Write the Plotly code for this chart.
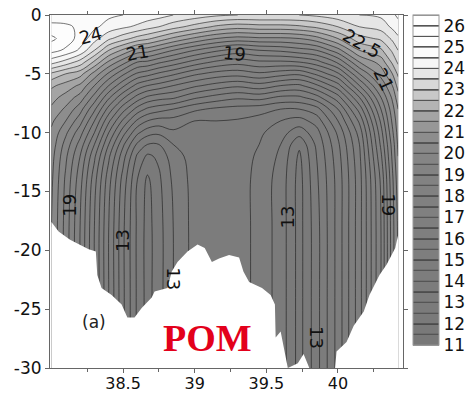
import plotly.graph_objects as go

# ---------------- data ----------------
lon = [38.0, 38.1, 38.2, 38.3, 38.4, 38.5, 38.6, 38.67, 38.75, 38.85, 39.0,
       39.15, 39.3, 39.45, 39.6, 39.73, 39.85, 40.0, 40.15, 40.3, 40.38, 40.42]
depth = [0, -1, -2, -3, -4, -5, -6, -7, -8, -9, -10, -11, -12, -14, -18, -24, -30]

# temperature profiles (one per longitude, values at the depths above)
profiles = [
    [24.6, 25.2, 25.6, 25.2, 24.2, 22.9, 22.1, 21.7, 21.4, 21.1, 20.9, 20.8, 20.7, 20.6, 20.5, 20.5, 20.5],
    [24.7, 25.1, 25.3, 24.9, 23.8, 22.5, 21.8, 21.3, 20.9, 20.5, 20.1, 19.8, 19.6, 19.4, 19.3, 19.3, 19.3],
    [24.7, 24.9, 24.8, 24.4, 23.3, 22.2, 21.4, 20.8, 20.2, 19.7, 19.2, 18.8, 18.5, 18.2, 18.0, 18.0, 18.0],
    [24.6, 24.6, 24.2, 23.5, 22.4, 21.3, 20.5, 19.8, 19.1, 18.5, 18.0, 17.5, 17.1, 16.7, 16.5, 16.5, 16.5],
    [24.6, 24.3, 23.6, 22.5, 21.4, 20.4, 19.5, 18.6, 17.8, 17.1, 16.5, 16.0, 15.6, 15.2, 15.0, 15.0, 15.0],
    [24.5, 24.1, 23.2, 21.9, 20.7, 19.6, 18.6, 17.6, 16.7, 15.9, 15.2, 14.6, 14.2, 13.8, 13.6, 13.6, 13.6],
    [24.4, 23.9, 22.8, 21.3, 20.0, 18.9, 17.8, 16.8, 15.8, 14.9, 14.1, 13.4, 12.9, 12.5, 12.4, 12.4, 12.4],
    [24.3, 23.7, 22.6, 21.2, 19.9, 18.7, 17.5, 16.4, 15.4, 14.5, 13.7, 13.0, 12.4, 11.9, 11.8, 11.8, 11.8],
    [24.2, 23.5, 22.3, 20.9, 19.6, 18.4, 17.3, 16.2, 15.2, 14.3, 13.6, 13.0, 12.6, 12.4, 12.3, 12.3, 12.3],
    [24.0, 23.2, 21.9, 20.5, 19.3, 18.1, 17.0, 16.1, 15.0, 14.3, 13.9, 13.5, 13.3, 13.1, 13.0, 13.0, 13.0],
    [23.8, 22.8, 21.4, 20.0, 18.8, 17.6, 16.6, 15.6, 14.6, 14.0, 13.8, 13.75, 13.7, 13.7, 13.7, 13.7, 13.7],
    [23.6, 22.4, 21.0, 19.6, 18.4, 17.3, 16.3, 15.3, 14.4, 14.0, 13.95, 13.95, 13.9, 13.9, 13.9, 13.9, 13.9],
    [23.5, 22.2, 20.8, 19.3, 18.2, 17.2, 16.1, 15.1, 14.3, 13.95, 13.85, 13.85, 13.8, 13.8, 13.8, 13.8, 13.8],
    [23.5, 22.3, 20.9, 19.5, 18.4, 17.4, 16.3, 15.2, 14.2, 13.8, 13.6, 13.5, 13.4, 13.3, 13.3, 13.3, 13.3],
    [23.5, 22.3, 20.9, 19.6, 18.4, 17.2, 16.0, 14.9, 14.0, 13.5, 13.2, 13.0, 12.9, 12.8, 12.8, 12.8, 12.8],
    [23.5, 22.4, 21.0, 19.8, 18.5, 17.1, 15.9, 14.9, 14.0, 13.3, 12.7, 12.1, 11.9, 11.8, 11.8, 11.8, 11.8],
    [23.6, 22.6, 21.3, 20.0, 18.8, 17.6, 16.4, 15.3, 14.3, 13.7, 13.3, 13.1, 13.0, 12.9, 12.8, 12.8, 12.8],
    [23.8, 23.0, 22.0, 20.8, 19.6, 18.4, 17.3, 16.3, 15.5, 15.0, 14.6, 14.4, 14.3, 14.2, 14.2, 14.2, 14.2],
    [24.0, 23.5, 22.8, 22.0, 21.0, 20.0, 19.0, 18.0, 17.2, 16.6, 16.2, 16.0, 15.9, 15.8, 15.8, 15.8, 15.8],
    [24.1, 23.7, 23.1, 22.4, 21.7, 21.2, 20.6, 20.0, 19.5, 19.1, 18.8, 18.6, 18.4, 18.1, 18.0, 18.0, 18.0],
    [24.4, 24.1, 23.6, 23.1, 22.6, 22.0, 21.5, 21.1, 20.8, 20.6, 20.4, 20.2, 20.1, 19.9, 19.8, 19.8, 19.8],
    [24.6, 24.3, 23.9, 23.5, 23.1, 22.6, 22.2, 21.8, 21.5, 21.3, 21.2, 21.1, 21.0, 20.8, 20.6, 20.6, 20.6],
]

# sea-bottom (bathymetry) along the section
bottom_lon = [38.0, 38.05, 38.13, 38.19, 38.26, 38.31, 38.32, 38.35, 38.42, 38.49,
              38.53, 38.58, 38.63, 38.70, 38.72, 38.81, 38.84, 38.88, 38.95, 39.02,
              39.07, 39.12, 39.17, 39.24, 39.31, 39.34, 39.38, 39.47, 39.53, 39.56,
              39.565, 39.60, 39.65, 39.72, 39.76, 39.80, 39.98, 39.99, 40.06, 40.11,
              40.18, 40.22, 40.29, 40.34, 40.40, 40.42]
bottom_depth = [-17.6, -18.4, -19.1, -19.5, -19.9, -20.1, -22.1, -23.2, -23.8, -24.6,
                -25.7, -25.7, -24.9, -24.0, -23.5, -23.2, -21.8, -21.0, -20.1, -19.5,
                -19.8, -21.0, -20.7, -20.4, -20.6, -21.8, -22.7, -23.2, -23.8, -24.6,
                -27.4, -26.9, -30.0, -29.6, -28.8, -30.0, -30.0, -28.6, -27.8, -26.4,
                -25.2, -23.8, -22.1, -21.2, -19.8, -18.7]

# contour labels
label_text = ["24", "21", "19", "22.5", "21", "19", "13", "13", "13", "13", "19"]
label_lon = [38.27, 38.60, 39.28, 40.17, 40.32, 38.13, 38.50, 38.85, 39.645, 39.85, 40.35]
label_depth = [-1.7, -3.2, -3.3, -2.4, -5.5, -16.2, -19.2, -22.4, -17.2, -27.4, -16.1]
label_angle = [-15, -10, 6, 30, 65, -90, -90, 90, -90, 90, 90]

# axis ticks
x_tickvals = [38.5, 39, 39.5, 40]
x_ticktext = ["38.5", "39", "39.5", "40"]
x_minor = [38.25, 38.75, 39.25, 39.75, 40.25]
y_tickvals = [0, -5, -10, -15, -20, -25, -30]
y_ticktext = ["0", "-5", "-10", "-15", "-20", "-25", "-30"]
cb_labels = list(range(11, 27))

# ---------------- style ----------------
band_colors = ["#787878", "#797979", "#7a7a7a", "#7b7b7b", "#7c7c7c", "#7c7c7c",
               "#7d7d7d", "#7d7d7d", "#7e7e7e", "#7e7e7e", "#7f7f7f", "#7f7f7f",
               "#808080", "#808080", "#818181", "#828282", "#838383", "#858585",
               "#888888", "#8d8d8d", "#979797", "#a4a4a4", "#b4b4b4", "#c8c8c8",
               "#d8d8d8", "#e6e6e6", "#f6f6f6", "#fbfbfb", "#fdfdfd", "#fefefe",
               "#ffffff"]
zlo, zhi, step = 11.0, 26.5, 0.5
colorscale = [[0.0, band_colors[0]]]
for i, c in enumerate(band_colors):
    mid = zlo + step * (i + 0.5)
    colorscale.append([(mid - zlo) / (zhi - zlo), c])
colorscale.append([1.0, band_colors[-1]])

z = [list(r) for r in zip(*profiles)]

cb_vals, cb_text = [], []
v = zlo
while v < zhi - 1e-9:
    cb_vals.append(v)
    cb_text.append(str(int(v)) if abs(v - round(v)) < 1e-9 and int(v) in cb_labels else "")
    v += step

FONT = "DejaVu Sans, Verdana, sans-serif"
xr = [37.99, 40.454]
yr = [-30, 0]

fig = go.Figure()
fig.add_trace(go.Contour(
    x=lon, y=depth, z=z,
    zmin=zlo, zmax=zhi,
    contours=dict(start=zlo, end=zhi, size=step, coloring="fill", showlines=True),
    line=dict(color="#1a1a1a", width=0.6, smoothing=1),
    colorscale=colorscale,
    hoverinfo="skip",
    colorbar=dict(
        thickness=26, thicknessmode="pixels",
        len=330, lenmode="pixels",
        x=1.0283, xanchor="left", xpad=0,
        y=1, yanchor="top", ypad=0,
        outlinewidth=1, outlinecolor="#9a9a9a",
        tickmode="array", tickvals=cb_vals, ticktext=cb_text,
        ticks="inside", ticklen=26, tickcolor="#555555", tickwidth=1,
        tickfont=dict(size=17, color="#111111", family=FONT),
    ),
))

# white mask below the sea bottom
mask_x = bottom_lon + [bottom_lon[-1], bottom_lon[0]]
mask_y = bottom_depth + [yr[0] - 1, yr[0] - 1]
fig.add_trace(go.Scatter(
    x=mask_x, y=mask_y, mode="lines", fill="toself",
    fillcolor="white", line=dict(width=0, color="white"),
    hoverinfo="skip", showlegend=False,
))

annotations = []
for t, lx, ly, a in zip(label_text, label_lon, label_depth, label_angle):
    annotations.append(dict(x=lx, y=ly, text=t, showarrow=False, textangle=a,
                            font=dict(size=18, color="#111111", family=FONT)))
annotations.append(dict(x=38.30, y=-26.1, text="(a)", showarrow=False,
                        font=dict(size=17, color="#222222", family=FONT)))
annotations.append(dict(x=39.09, y=-27.45, text="<b>POM</b>", showarrow=False,
                        font=dict(size=38, color="#e3001b",
                                  family="Liberation Serif, Times New Roman, serif")))

axis_common = dict(showline=True, linecolor="#666666", linewidth=1, mirror="ticks",
                   ticks="outside", ticklen=4, tickcolor="#666666", showgrid=False,
                   zeroline=False)
fig.update_layout(
    width=465, height=395,
    margin=dict(l=50, r=62, t=15, b=27, autoexpand=False),
    paper_bgcolor="white", plot_bgcolor="white",
    showlegend=False,
    annotations=annotations,
    xaxis=dict(range=xr, tickmode="array", tickvals=x_tickvals, ticktext=x_ticktext,
               minor=dict(tickmode="array", tickvals=x_minor, ticks="outside",
                          ticklen=3, tickcolor="#666666"),
               ticklabelstandoff=-3,
               tickfont=dict(size=16, color="#111111", family=FONT),
               **axis_common),
    yaxis=dict(range=yr, tickmode="array", tickvals=y_tickvals, ticktext=y_ticktext,
               tickfont=dict(size=17, color="#111111", family=FONT),
               **axis_common),
)
fig.write_html("out.html")
